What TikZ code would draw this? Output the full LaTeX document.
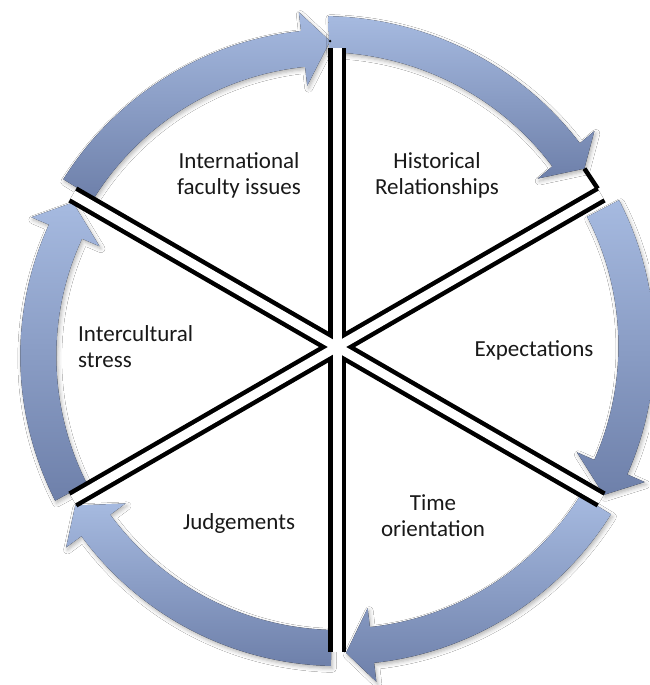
\documentclass[tikz,border=0pt]{standalone}
\usepackage{fontspec}
\setmainfont{Carlito}
\usetikzlibrary{calc,shadows.blur}

\definecolor{ringtop}{HTML}{A6BAE0}
\definecolor{ringbot}{HTML}{6E80AA}

% half widths of the arrow body and of the arrow head
\def\bw{18}
\def\hw{37}

% curved arrow around the centre of the current scope
% #1 tail angle, #2 angle of the head base, #3 tip angle,
% #4 radius at the tail, #5 radius at the head, #6 name of the tip
\newcommand{\cycarrow}[6]{%
  \def\ta{#1}\def\tb{#2}\def\ra{#4}\def\rb{#5}%
  \fill[arrowshade]
    plot[domain=#1:#2,samples=60] (\x:{rr(\x)+\bw})
    -- (#2:{#5+\hw})
    -- (#3:{#5+6}) coordinate (#6)
    -- (#2:{#5-\hw})
    -- plot[domain=#2:#1,samples=60] (\x:{rr(\x)-\bw})
    -- cycle;}

\tikzset{
  declare function={rr(\t)=\ra+(\rb-\ra)*(\t-\ta)/(\tb-\ta);},
  arrowshade/.style={top color=ringtop, bottom color=ringbot,
    blur shadow={shadow xshift=1.5pt, shadow yshift=-2.5pt,
      shadow blur radius=4pt, shadow opacity=30}},
  spokeout/.style={draw=black, line width=18pt},
  spokein/.style={draw=white, line width=9pt},
  lbl/.style={font=\fontsize{23}{26}\selectfont, text=black!90, align=center, inner sep=0pt},
}

\begin{document}
\begin{tikzpicture}[x=1pt, y=1pt]
\useasboundingbox (0,0) rectangle (649,685);
\fill[white] (0,0) rectangle (649,685);

\coordinate (c) at (337,338);

\begin{scope}[shift={(c)}]
  \cycarrow{148.5}{96.5}{91.3}{303}{300}{tipa}
  \cycarrow{91.5}{40}{35.8}{313}{299}{tipb}
  \cycarrow{27.5}{-23.7}{-29}{300}{299}{tipc}
  \cycarrow{-31.4}{-83.3}{-88.3}{303}{300}{tipd}
  \cycarrow{-91.1}{-143.5}{-148.8}{301}{300}{tipe}
  \cycarrow{-151.4}{-203}{-208.7}{303}{295}{tipf}
\end{scope}

% spoke ends
\coordinate (n)  at ($(c)+(90:299)$);
\coordinate (ne) at ($(c)+(30:305)$);
\coordinate (se) at ($(c)+(-30:305)$);
\coordinate (s)  at ($(c)+(-90:305)$);
\coordinate (sw) at ($(c)+(210:305)$);
\coordinate (nw) at ($(c)+(150:305)$);

% double spokes: black first, white cores on top so the centre stays open
\foreach \e in {n,ne,se,s,sw,nw} \draw[spokeout] (c) -- (\e);
\foreach \e in {n,ne,se,s,sw,nw} \draw[spokein] (c) -- (\e);

% short link from the upper-right spoke to the arrow tip
\coordinate (hook) at ($(ne)+(120:6.75)$);
\draw[line width=4.5pt, line join=miter] (hook) -- (tipb);
\fill (tipa) circle (1.4);

\node[lbl] (intl) at (239,510) {International\\faculty issues};
\node[lbl] (hist) at (437,510) {Historical\\Relationships};
\node[lbl] (expt) at (534,335) {Expectations};
\node[lbl] (time) at (433,169) {Time\\orientation};
\node[lbl] (judg) at (239,162) {Judgements};
\node[lbl, align=left, anchor=west] (stress) at (78,338) {Intercultural\\stress};
\end{tikzpicture}
\end{document}
